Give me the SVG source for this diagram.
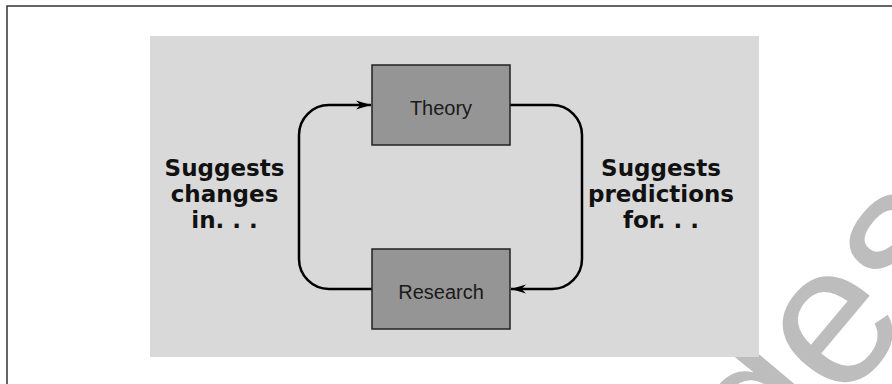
<svg xmlns="http://www.w3.org/2000/svg" width="892" height="384" viewBox="0 0 892 384">
  <defs>
    <style>
      .box { fill: #959595; stroke: #222222; stroke-width: 1.5; }
      .boxlabel { font-family: "Liberation Sans", Arial, sans-serif; font-size: 20px; fill: #1a1a1a; text-anchor: middle; }
      .side { font-family: "DejaVu Sans", sans-serif; font-weight: bold; font-size: 23px; fill: #111111; text-anchor: middle; }
      .conn { fill: none; stroke: #000000; stroke-width: 2.5; }
    </style>
    <marker id="arrow" markerUnits="userSpaceOnUse" markerWidth="20" markerHeight="12" viewBox="-16 -6 18 12" refX="0" refY="0" orient="auto">
      <path d="M0,0 L-15,-4.5 L-10.5,0 L-15,4.5 Z" fill="#000000"/>
    </marker>
  </defs>
  <rect x="0" y="0" width="892" height="384" fill="#ffffff"/>
  <rect x="7" y="6" width="900" height="400" fill="none" stroke="#333333" stroke-width="1.5"/>
  <g id="watermark">
    <text x="0" y="0" transform="translate(770,491) rotate(-50)" font-family="Liberation Sans, Arial, sans-serif" font-size="200" fill="#bdbdbd">des</text>
  </g>
  <g id="panel">
    <rect x="150" y="36" width="609" height="321" fill="#d9d9d9"/>
  </g>
  <g id="connectors">
    <path class="conn" d="M372,289 H329 A30,30 0 0 1 299,259 V135 A30,30 0 0 1 329,105 H371" marker-end="url(#arrow)"/>
    <path class="conn" d="M510,105 H552 A30,30 0 0 1 582,135 V259 A30,30 0 0 1 552,289 H511" marker-end="url(#arrow)"/>
  </g>
  <g id="theory">
    <rect class="box" x="372" y="65" width="138" height="80"/>
    <text class="boxlabel" x="441" y="115">Theory</text>
  </g>
  <g id="research">
    <rect class="box" x="372" y="249" width="138" height="80"/>
    <text class="boxlabel" x="441" y="299">Research</text>
  </g>
  <g id="label-left">
    <text class="side" x="224.5" y="176">Suggests</text>
    <text class="side" x="224.5" y="202">changes</text>
    <text class="side" x="224.5" y="228">in. . .</text>
  </g>
  <g id="label-right">
    <text class="side" x="661" y="176">Suggests</text>
    <text class="side" x="661" y="202">predictions</text>
    <text class="side" x="661" y="228">for. . .</text>
  </g>
</svg>
